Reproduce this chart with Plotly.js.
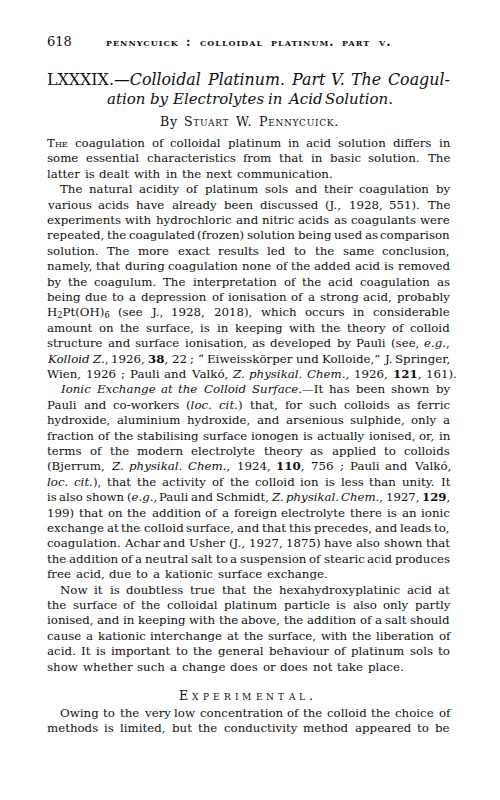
<!DOCTYPE html>
<html>
<head>
<meta charset="utf-8">
<script src="https://cdn.plot.ly/plotly-3.0.1.min.js"></script>
<style>
  body { margin: 0; background: #fff; }
  #page { width: 500px; height: 800px; }
</style>
</head>
<body>
<div id="page"></div>
<script>
// page text, line by line as set in the original
const pageNumber = "618";
const runningHead = "<sc>pennycuick : colloidal platinum. part v.</sc>";

const titleLines = [
  "LXXXIX.—<i>Colloidal Platinum. Part V. The Coagul-</i>",
  "<i>ation by Electrolytes in Acid Solution.</i>",
];

const byline = "By <sc>Stuart</sc> W. <sc>Pennycuick</sc>.";

const para1 = [
  "T<sc>he</sc> coagulation of colloidal platinum in acid solution differs in",
  "some essential characteristics from that in basic solution. The",
  "latter is dealt with in the next communication.",
];

const para2 = [
  "The natural acidity of platinum sols and their coagulation by",
  "various acids have already been discussed (J., 1928, 551). The",
  "experiments with hydrochloric and nitric acids as coagulants were",
  "repeated, the coagulated (frozen) solution being used as comparison",
  "solution. The more exact results led to the same conclusion,",
  "namely, that during coagulation none of the added acid is removed",
  "by the coagulum. The interpretation of the acid coagulation as",
  "being due to a depression of ionisation of a strong acid, probably",
  "H<sub>2</sub>Pt(OH)<sub>6</sub> (see J., 1928, 2018), which occurs in considerable",
  "amount on the surface, is in keeping with the theory of colloid",
  "structure and surface ionisation, as developed by Pauli (see, <i>e.g.</i>,",
  "<i>Kolloid Z.</i>, 1926, <b>38</b>, 22 ; “ Eiweisskörper und Kolloide,” J. Springer,",
  "Wien, 1926 ; Pauli and Valkó, <i>Z. physikal. Chem.</i>, 1926, <b>121</b>, 161).",
];

const para3 = [
  "<i>Ionic Exchange at the Colloid Surface.</i>—It has been shown by",
  "Pauli and co-workers (<i>loc. cit.</i>) that, for such colloids as ferric",
  "hydroxide, aluminium hydroxide, and arsenious sulphide, only a",
  "fraction of the stabilising surface ionogen is actually ionised, or, in",
  "terms of the modern electrolyte theory as applied to colloids",
  "(Bjerrum, <i>Z. physikal. Chem.</i>, 1924, <b>110</b>, 756 ; Pauli and Valkó,",
  "<i>loc. cit.</i>), that the activity of the colloid ion is less than unity. It",
  "is also shown (<i>e.g.</i>, Pauli and Schmidt, <i>Z. physikal. Chem.</i>, 1927, <b>129</b>,",
  "199) that on the addition of a foreign electrolyte there is an ionic",
  "exchange at the colloid surface, and that this precedes, and leads to,",
  "coagulation. Achar and Usher (J., 1927, 1875) have also shown that",
  "the addition of a neutral salt to a suspension of stearic acid produces",
  "free acid, due to a kationic surface exchange.",
];

const para4 = [
  "Now it is doubtless true that the hexahydroxyplatinic acid at",
  "the surface of the colloidal platinum particle is also only partly",
  "ionised, and in keeping with the above, the addition of a salt should",
  "cause a kationic interchange at the surface, with the liberation of",
  "acid. It is important to the general behaviour of platinum sols to",
  "show whether such a change does or does not take place.",
];

const heading = "E<sc>xperimental</sc>.";

const para5 = [
  "Owing to the very low concentration of the colloid the choice of",
  "methods is limited, but the conductivity method appeared to be",
];

const W = 500, H = 800;
const FONT = '"DejaVu Serif", "Liberation Serif", serif';
const INK = "#111111";
const LEFT = 47, RIGHT = 450, INDENT = 13;
const TOP = 143, LEAD = 15.4, BODY = 11.8, MIN_GAP = 2.6;

const ctx = document.createElement("canvas").getContext("2d");

// split a marked-up line into words, each word a list of styled runs
function parse(line) {
  const words = [];
  let cur = [];
  const st = { i: false, b: false, sub: false, sc: false };
  const re = /<(\/?)(i|b|sub|sc)>|[^<]+/g;
  let m;
  while ((m = re.exec(line))) {
    if (m[2]) { st[m[2]] = !m[1]; continue; }
    m[0].split(" ").forEach((p, k) => {
      if (k > 0 && cur.length) { words.push(cur); cur = []; }
      if (p) cur.push({ t: p, i: st.i, b: st.b, sub: st.sub, sc: st.sc });
    });
  }
  if (cur.length) words.push(cur);
  return words;
}

function runWidth(r, size, track = 0) {
  const parts = [];
  if (r.i) parts.push("italic");
  if (r.sc) parts.push("small-caps");
  if (r.b) parts.push("bold");
  parts.push((r.sub ? size * 0.7 : size) + "px");
  ctx.font = parts.join(" ") + " " + FONT;
  return ctx.measureText(r.t).width + track * [...r.t].length;
}

function markup(r, track) {
  let s = r.t;
  if (r.sub) s = "<sub>" + s + "</sub>";
  if (r.b) s = "<b>" + s + "</b>";
  if (r.i) s = "<i>" + s + "</i>";
  const css = [];
  if (r.sc) css.push("font-variant:small-caps");
  if (track) css.push("letter-spacing:" + track + "px");
  if (css.length) s = '<span style="' + css.join(";") + '">' + s + "</span>";
  return s;
}

const annotations = [];

function setLine(src, y, opts) {
  let size = opts.size || BODY;
  const track = opts.track || 0;
  let words = parse(src);
  if (opts.bold) words.forEach(w => w.forEach(r => { r.b = true; }));
  if (opts.letters) {
    words = words.flatMap(w => w.flatMap(r => [...r.t].map(ch => [{ ...r, t: ch }])));
  }
  const measure = s => words.map(w => w.reduce((a, r) => a + runWidth(r, s, track), 0));
  let widths = measure(size);
  let total = widths.reduce((a, b) => a + b, 0);
  const span = opts.right - opts.left;
  const n = words.length;
  if (opts.fit) {
    // scale the size so the line fills its measure with plain spaces
    const sp = runWidth({ t: " " }, size) * 1.3;
    size = size * span / (total + sp * (n - 1));
  } else if (opts.justify && n > 1 && total + MIN_GAP * (n - 1) > span) {
    // tight line: shrink a little rather than let words touch
    size = size * (span - MIN_GAP * (n - 1)) / total;
  }
  widths = measure(size);
  total = widths.reduce((a, b) => a + b, 0);
  let gap = runWidth({ t: " " }, size) * 1.3;
  if (opts.justify && n > 1) gap = (span - total) / (n - 1);
  let x = opts.left;
  words.forEach((w, k) => {
    annotations.push({
      xref: "paper", yref: "paper",
      x: x / W, y: 1 - y / H,
      xanchor: "left", yanchor: "middle",
      showarrow: false, borderpad: 0, borderwidth: 0,
      text: w.map(r => markup(r, track)).join(""),
      font: { family: FONT, size: size, color: INK },
    });
    x += widths[k] + gap;
  });
}

function paragraph(lines, k0, opts = {}) {
  lines.forEach((ln, j) => {
    const last = j === lines.length - 1 && !opts.runsOn;
    const left = j === 0 && opts.indent !== false ? LEFT + INDENT : LEFT;
    setLine(ln, TOP + (k0 + j) * LEAD, { left: left, right: RIGHT, justify: !last });
  });
}

// head of page
setLine(pageNumber, 42, { left: LEFT, size: 13 });
setLine(runningHead, 42, { left: 106, right: 390, justify: true, size: 12, bold: true, track: 1 });
setLine(titleLines[0], 79, { left: LEFT, right: RIGHT, justify: true, fit: true, size: 15 });
setLine(titleLines[1], 99, { left: 107, right: 393, justify: true, size: 15 });
setLine(byline, 122, { left: 160, right: 339, justify: true, size: 12.6, track: 0.7 });

// body
paragraph(para1, 0, { indent: false });
paragraph(para2, 3);
paragraph(para3, 16);
paragraph(para4, 29);
setLine(heading, 695, { left: 179, right: 313, justify: true, letters: true, size: 12.5 });
paragraph(para5, 37, { runsOn: true });

const layout = {
  width: W,
  height: H,
  margin: { l: 0, r: 0, t: 0, b: 0 },
  paper_bgcolor: "#ffffff",
  plot_bgcolor: "#ffffff",
  xaxis: { visible: false, range: [0, 1] },
  yaxis: { visible: false, range: [0, 1] },
  showlegend: false,
  annotations: annotations,
};

Plotly.newPlot("page", [], layout, { staticPlot: true, displayModeBar: false });
</script>
</body>
</html>
